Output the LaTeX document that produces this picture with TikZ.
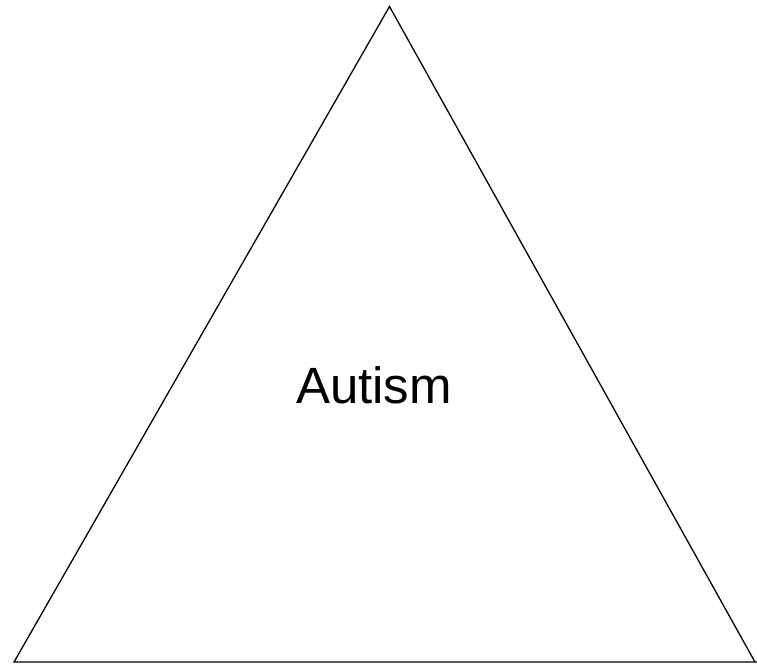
\documentclass[tikz,border=0pt]{standalone}
\usepackage{fontspec}
\setmainfont{Liberation Sans}
\begin{document}
\begin{tikzpicture}[x=1pt,y=-1pt,line width=1.3pt,
  tri/.style={draw=black,line join=miter}]
\useasboundingbox[fill=white] (0,0) rectangle (757,665);
\coordinate (apex) at (389.5,6.5);
\coordinate (bl) at (14,662);
\coordinate (br) at (755,662);
\coordinate (be) at (757,662);
\draw[tri] (be) -- (bl) -- (apex) -- (br);
\node[anchor=base,font=\fontsize{51}{60}\selectfont,inner sep=0pt] (label) at (374,403) {Autism};
\end{tikzpicture}
\end{document}
